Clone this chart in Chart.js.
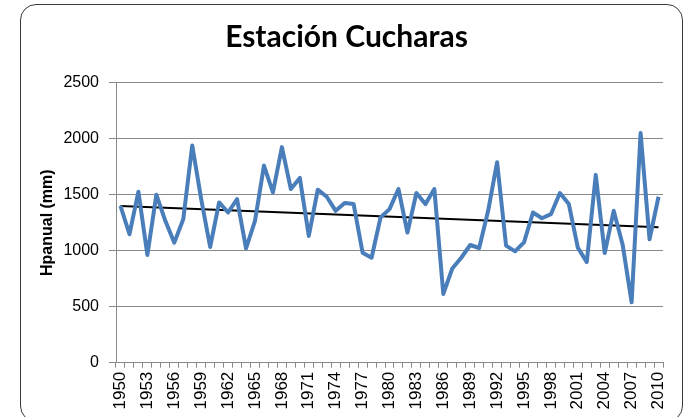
<!DOCTYPE html>
<html><head><meta charset="utf-8">
<script src="https://cdn.jsdelivr.net/npm/chart.js@4/dist/chart.umd.min.js"></script>
<style>
html,body{margin:0;padding:0;background:#fff;overflow:hidden;}
#wrap{position:relative;width:689px;height:417px;}
#frame{position:absolute;left:20px;top:4px;width:663px;height:418px;border:1.5px solid #3a3a3a;border-radius:16px;box-sizing:border-box;}
canvas{position:absolute;left:0;top:0;}
</style></head><body>
<div id="wrap"><div id="frame"></div><canvas id="c" width="689" height="417"></canvas></div>
<script>
const years = [1950,1951,1952,1953,1954,1955,1956,1957,1958,1959,
  1960,1961,1962,1963,1964,1965,1966,1967,1968,1969,
  1970,1971,1972,1973,1974,1975,1976,1977,1978,1979,
  1980,1981,1982,1983,1984,1985,1986,1987,1988,1989,
  1990,1991,1992,1993,1994,1995,1996,1997,1998,1999,
  2000,2001,2002,2003,2004,2005,2006,2007,2008,2009,2010];
const hpanual = [1400,1147,1527,961,1500,1267,1072,1281,1940,1460,
  1033,1431,1341,1461,1021,1266,1760,1521,1925,1551,
  1650,1132,1545,1482,1356,1425,1416,982,937,1296,
  1371,1551,1162,1515,1416,1551,614,841,937,1051,
  1024,1356,1790,1045,994,1075,1341,1290,1326,1515,
  1416,1027,898,1677,979,1356,1054,539,2051,1102,1482];
const trendStart = 1398;
const trendEnd = 1210;
const yTicks = [0,500,1000,1500,2000,2500];
const labelEvery = 3;

const trend = years.map((y,i)=> i===0 ? trendStart : (i===years.length-1 ? trendEnd : null));
const gridColor = '#8a8a8a';
const padLeft = 30;

new Chart(document.getElementById('c'), {
  type: 'line',
  data: {
    labels: years.map(String),
    datasets: [
      {data: hpanual, borderColor:'#4A7EBB', borderWidth:4, pointRadius:0, tension:0, fill:false, borderJoinStyle:'round'},
      {data: trend, borderColor:'#000', borderWidth:2, pointRadius:0, spanGaps:true, fill:false}
    ]
  },
  options: {
    responsive:false, animation:false, devicePixelRatio:1,
    layout:{padding:{left:padLeft,right:26,top:0,bottom:0}},
    plugins:{
      legend:{display:false}, tooltip:{enabled:false},
      title:{display:true, text:'Estación Cucharas', color:'#000',
        font:{family:'Lato, "Liberation Sans", sans-serif', size:30, weight:'bold', lineHeight:1.2},
        padding:{top:19, bottom:27.7}}
    },
    scales:{
      x:{
        type:'category', offset:true,
        grid:{offset:true, drawOnChartArea:false, drawTicks:true, tickLength:5, color:gridColor},
        border:{color:gridColor, width:1},
        ticks:{autoSkip:false, minRotation:90, maxRotation:90, padding:4, color:'#000',
          font:{family:'"Liberation Sans", Arial, sans-serif', size:17},
          callback:function(v,i){ return i % labelEvery === 0 ? this.getLabelForValue(v) : ''; }},
        afterFit:(s)=>{ s.height = 54.3; }
      },
      y:{
        min:yTicks[0], max:yTicks[yTicks.length-1],
        afterBuildTicks:(s)=>{ s.ticks = yTicks.map(v=>({value:v})); },
        grid:{color:gridColor, tickLength:7, lineWidth:1},
        border:{color:gridColor, width:1},
        ticks:{padding:10, color:'#000', font:{family:'"Liberation Sans", Arial, sans-serif', size:16},
          callback:(v)=>String(v)},
        title:{display:true, text:'Hpanual (mm)', color:'#000',
          font:{family:'"Liberation Sans", Arial, sans-serif', size:16, weight:'bold', lineHeight:1.2},
          padding:{top:8, bottom:0}},
        afterFit:(s)=>{ s.width = 116 - padLeft; }
      }
    }
  }
});
</script>
</body></html>
